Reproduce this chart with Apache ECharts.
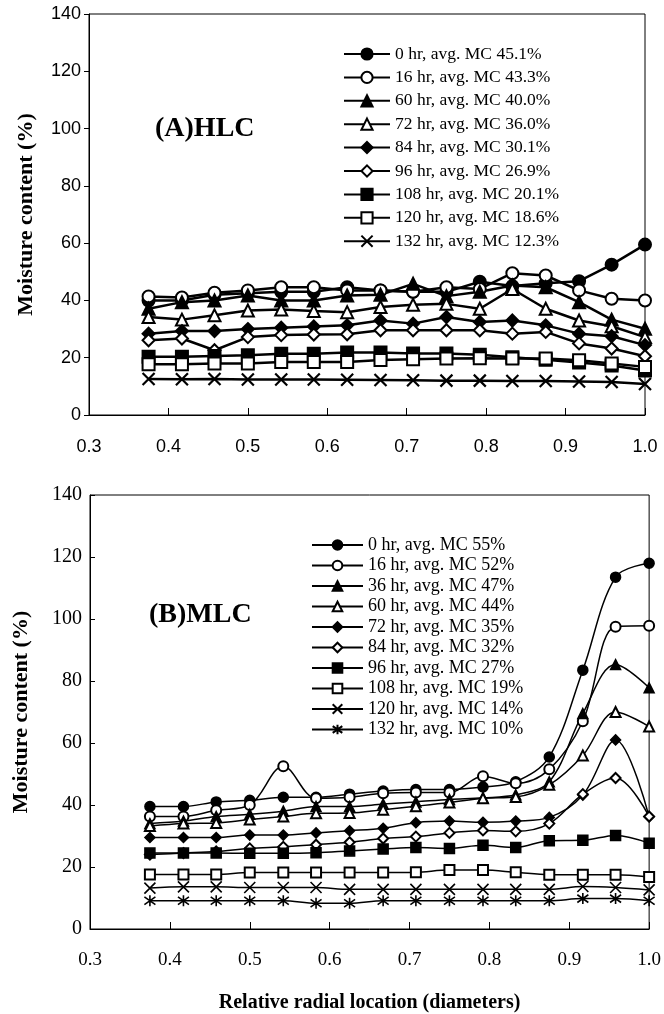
<!DOCTYPE html>
<html>
<head>
<meta charset="utf-8">
<script src="https://cdn.jsdelivr.net/npm/echarts@6/dist/echarts.min.js"></script>
<style>
  html, body { margin: 0; padding: 0; background: #fff; }
  #container { width: 664px; height: 1014px; }
</style>
</head>
<body>
<div id="container"></div>
<script>
// x 轴：相对径向位置
const radialPos = [0.375, 0.417, 0.458, 0.5, 0.542, 0.583, 0.625, 0.667, 0.708, 0.75, 0.792, 0.833, 0.875, 0.917, 0.958, 1.0];

// (A) HLC 图例
const hlcNames = [
  '0 hr, avg. MC 45.1%', '16 hr, avg. MC 43.3%', '60 hr, avg. MC 40.0%',
  '72 hr, avg. MC 36.0%', '84 hr, avg. MC 30.1%', '96 hr, avg. MC 26.9%',
  '108 hr, avg. MC 20.1%', '120 hr, avg. MC 18.6%', '132 hr, avg. MC 12.3%'
];
// (A) HLC 各时段含水率
const hlc0   = [40, 40, 42, 42.5, 43, 43, 44.6, 43.5, 43, 43, 46.5, 45, 46, 46.7, 52.5, 59.5];
const hlc16  = [41.4, 41, 42.7, 43.5, 44.6, 44.6, 43.5, 43.5, 43, 44.6, 44, 49.5, 48.7, 43.5, 40.6, 40];
const hlc60  = [37.1, 39.4, 40, 41.7, 40, 40, 41.7, 42, 45.8, 41.5, 43, 45.2, 44.6, 39.4, 33.3, 30.1];
const hlc72  = [34.2, 33.3, 34.8, 36.5, 36.8, 36.3, 35.9, 37.7, 38.5, 38.8, 37.1, 44, 37.1, 33, 31, 27.2];
const hlc84  = [28.4, 29.3, 29.3, 30, 30.5, 30.9, 31.3, 33, 31.9, 34.2, 32.5, 33, 31.3, 28.4, 27.5, 24.4];
const hlc96  = [26.1, 26.7, 22.6, 27.2, 27.9, 28.1, 28.2, 29.6, 29.6, 29.6, 29.6, 28.4, 29, 25, 23.2, 20.5];
const hlc108 = [20.3, 20.3, 20.6, 20.9, 21.4, 21.4, 21.8, 21.8, 21.5, 21.5, 21, 20.2, 19.3, 18.3, 17.3, 15.5];
const hlc120 = [17.7, 17.7, 18, 18, 18.5, 18.5, 18.5, 19.2, 19.5, 19.7, 19.8, 19.7, 19.7, 19.1, 18, 16.8];
const hlc132 = [12.6, 12.5, 12.6, 12.4, 12.4, 12.4, 12.3, 12.2, 12.1, 12, 12, 11.9, 11.9, 11.7, 11.5, 10.8];

// (B) MLC 图例
const mlcNames = [
  '0 hr, avg. MC 55%', '16 hr, avg. MC 52%', '36 hr, avg. MC 47%',
  '60 hr, avg. MC 44%', '72 hr, avg. MC 35%', '84 hr, avg. MC 32%',
  '96 hr, avg. MC 27%', '108 hr, avg. MC 19%', '120 hr, avg. MC 14%',
  '132 hr, avg. MC 10%'
];
// (B) MLC 各时段含水率
const mlc0   = [39.5, 39.5, 41, 41.5, 42.5, 42.5, 43.5, 44.5, 45, 45, 45.8, 47.5, 55.5, 83.5, 113.5, 118];
const mlc16  = [36.3, 36.3, 38.3, 40, 52.5, 42.2, 42.5, 43.8, 44, 44, 49.3, 47, 51.5, 67, 97.5, 97.8];
const mlc36  = [34, 34.8, 36.3, 37, 38, 39.5, 39.5, 40.3, 41, 41.8, 42.3, 43.3, 47.5, 69.5, 85.3, 77.8];
const mlc60  = [33.2, 34, 34.2, 35.3, 36.3, 37.3, 37.4, 38.5, 39.6, 40.8, 42.2, 42.6, 46.5, 56, 70, 65.3];
const mlc72  = [29.5, 29.5, 29.5, 30.3, 30.3, 31, 31.7, 32.5, 34.3, 34.8, 34.4, 34.8, 36, 43.2, 61, 36.2];
const mlc84  = [24, 24.5, 25, 26, 26.5, 27.2, 28, 29.2, 29.8, 31, 31.8, 31.5, 34, 43.5, 48.7, 36.3];
const mlc96  = [24.5, 24.5, 24.5, 24.4, 24.4, 24.6, 25.2, 25.8, 26.3, 26, 27, 26.3, 28.5, 28.6, 30.2, 27.7];
const mlc108 = [17.6, 17.6, 17.6, 18.2, 18.2, 18.2, 18.2, 18.2, 18.3, 19, 19, 18.3, 17.5, 17.5, 17.5, 16.8];
const mlc120 = [13.2, 13.6, 13.6, 13.4, 13.4, 13.4, 12.8, 12.8, 12.8, 12.8, 12.8, 12.8, 12.8, 13.7, 13.4, 12.6];
const mlc132 = [9.1, 9.1, 9.1, 9.1, 9.1, 8.3, 8.3, 9.1, 9.1, 9.1, 9.1, 9.1, 9.1, 9.8, 9.8, 9.1];

// 刻度范围
const xTicks = [0.3, 0.4, 0.5, 0.6, 0.7, 0.8, 0.9, 1.0];
const yTicks = [0, 20, 40, 60, 80, 100, 120, 140];

// 标记符号
const X_PATH = 'path://M0,0L10,10M10,0L0,10';
const STAR_PATH = 'path://M5,0L5,10M0,1.5L10,8.5M10,1.5L0,8.5';
const hlcSymbols = ['circle', 'emptyCircle', 'triangle', 'emptyTriangle', 'diamond', 'emptyDiamond', 'rect', 'emptyRect', X_PATH];
const mlcSymbols = ['circle', 'emptyCircle', 'triangle', 'emptyTriangle', 'diamond', 'emptyDiamond', 'rect', 'emptyRect', X_PATH, STAR_PATH];

const hlcData = [hlc0, hlc16, hlc60, hlc72, hlc84, hlc96, hlc108, hlc120, hlc132];
const mlcData = [mlc0, mlc16, mlc36, mlc60, mlc72, mlc84, mlc96, mlc108, mlc120, mlc132];

const SERIF = '"Liberation Serif", "Times New Roman", serif';
const SANS = '"Liberation Sans", Arial, sans-serif';

document.addEventListener('DOMContentLoaded', function () {
  setMyChart();
});

// [x, y] 数据对
function toPairs(arr) {
  return radialPos.map((x, i) => [x, arr[i]]);
}

// 生成折线系列
function makeSeries(names, datas, symbols, gridIdx, opt) {
  return names.map((name, i) => {
    const isPath = symbols[i].indexOf('path://') === 0;
    return {
      name: name,
      type: 'line',
      xAxisIndex: gridIdx,
      yAxisIndex: gridIdx,
      data: toPairs(datas[i]),
      symbol: symbols[i],
      symbolSize: isPath ? opt.pathSize : opt.symbolSize,
      smooth: opt.smooth,
      lineStyle: { color: '#000', width: opt.lineWidth },
      itemStyle: { color: '#000', borderColor: '#000', borderWidth: isPath ? opt.pathWidth : opt.borderWidth },
      emphasis: { disabled: true },
      z: 2
    };
  });
}

function xAxisCfg(gridIdx, font, size, margin, withName) {
  const cfg = {
    type: 'value',
    gridIndex: gridIdx,
    min: xTicks[0],
    max: xTicks[xTicks.length - 1],
    interval: 0.1,
    axisLine: { show: true, lineStyle: { color: '#000', width: 1 } },
    axisTick: { show: true, inside: true, length: 7, lineStyle: { color: '#000' } },
    splitLine: { show: false },
    axisLabel: { color: '#000', fontFamily: font, fontSize: size, margin: margin,
      formatter: v => v.toFixed(1) }
  };
  if (withName) {
    cfg.name = 'Relative radial location (diameters)';
    cfg.nameLocation = 'middle';
    cfg.nameGap = 64;
    cfg.nameTextStyle = { color: '#000', fontFamily: SERIF, fontWeight: 'bold', fontSize: 20 };
  }
  return cfg;
}

function yAxisCfg(gridIdx, font, size, tickInside, nameGap) {
  return {
    type: 'value',
    gridIndex: gridIdx,
    min: yTicks[0],
    max: yTicks[yTicks.length - 1],
    interval: 20,
    axisLine: { show: true, lineStyle: { color: '#000', width: 1 } },
    axisTick: { show: true, inside: tickInside, length: 5, lineStyle: { color: '#000' } },
    splitLine: { show: false },
    axisLabel: { color: '#000', fontFamily: font, fontSize: size, margin: 8 },
    name: 'Moisture content (%)',
    nameLocation: 'middle',
    nameRotate: 90,
    nameGap: nameGap,
    nameTextStyle: { color: '#000', fontFamily: SERIF, fontWeight: 'bold', fontSize: 22 }
  };
}

function setMyChart() {
  const dom = document.getElementById('container');
  const myChart = echarts.init(dom, null, { renderer: 'canvas' });

  const option = {
    backgroundColor: '#fff',
    animation: false,
    title: [
      { text: '(A)HLC', left: 150, top: 110,
        textStyle: { fontFamily: SERIF, fontWeight: 'bold', fontSize: 28, color: '#000' } },
      { text: '(B)MLC', left: 144, top: 596,
        textStyle: { fontFamily: SERIF, fontWeight: 'bold', fontSize: 28, color: '#000' } }
    ],
    legend: [
      { orient: 'vertical', left: 338, top: 40, itemWidth: 46, itemHeight: 14, itemGap: 5.4,
        textStyle: { fontFamily: SERIF, fontSize: 17.5, color: '#000' },
        data: hlcNames, selectedMode: false },
      { orient: 'vertical', left: 306, top: 531, itemWidth: 51, itemHeight: 12, itemGap: 2.5,
        textStyle: { fontFamily: SERIF, fontSize: 18, color: '#000' },
        data: mlcNames, selectedMode: false }
    ],
    grid: [
      { left: 89, top: 14, width: 556, height: 401, show: true, borderColor: '#000', borderWidth: 1 },
      { left: 90, top: 495, width: 560, height: 435, show: true, borderColor: '#000', borderWidth: 1 }
    ],
    xAxis: [
      xAxisCfg(0, SANS, 18, 23, false),
      xAxisCfg(1, SERIF, 19, 22, true)
    ],
    yAxis: [
      yAxisCfg(0, SANS, 18, false, 52),
      yAxisCfg(1, SERIF, 20, true, 58)
    ],
    series: [
      ...makeSeries(hlcNames, hlcData, hlcSymbols, 0,
        { symbolSize: 12, pathSize: 12, lineWidth: 2.5, borderWidth: 2, pathWidth: 2.2, smooth: false }),
      ...makeSeries(mlcNames, mlcData, mlcSymbols, 1,
        { symbolSize: 10, pathSize: 11, lineWidth: 1.5, borderWidth: 1.5, pathWidth: 1.6, smooth: 0.35 })
    ]
  };

  myChart.setOption(option, true);
}
</script>
</body>
</html>
